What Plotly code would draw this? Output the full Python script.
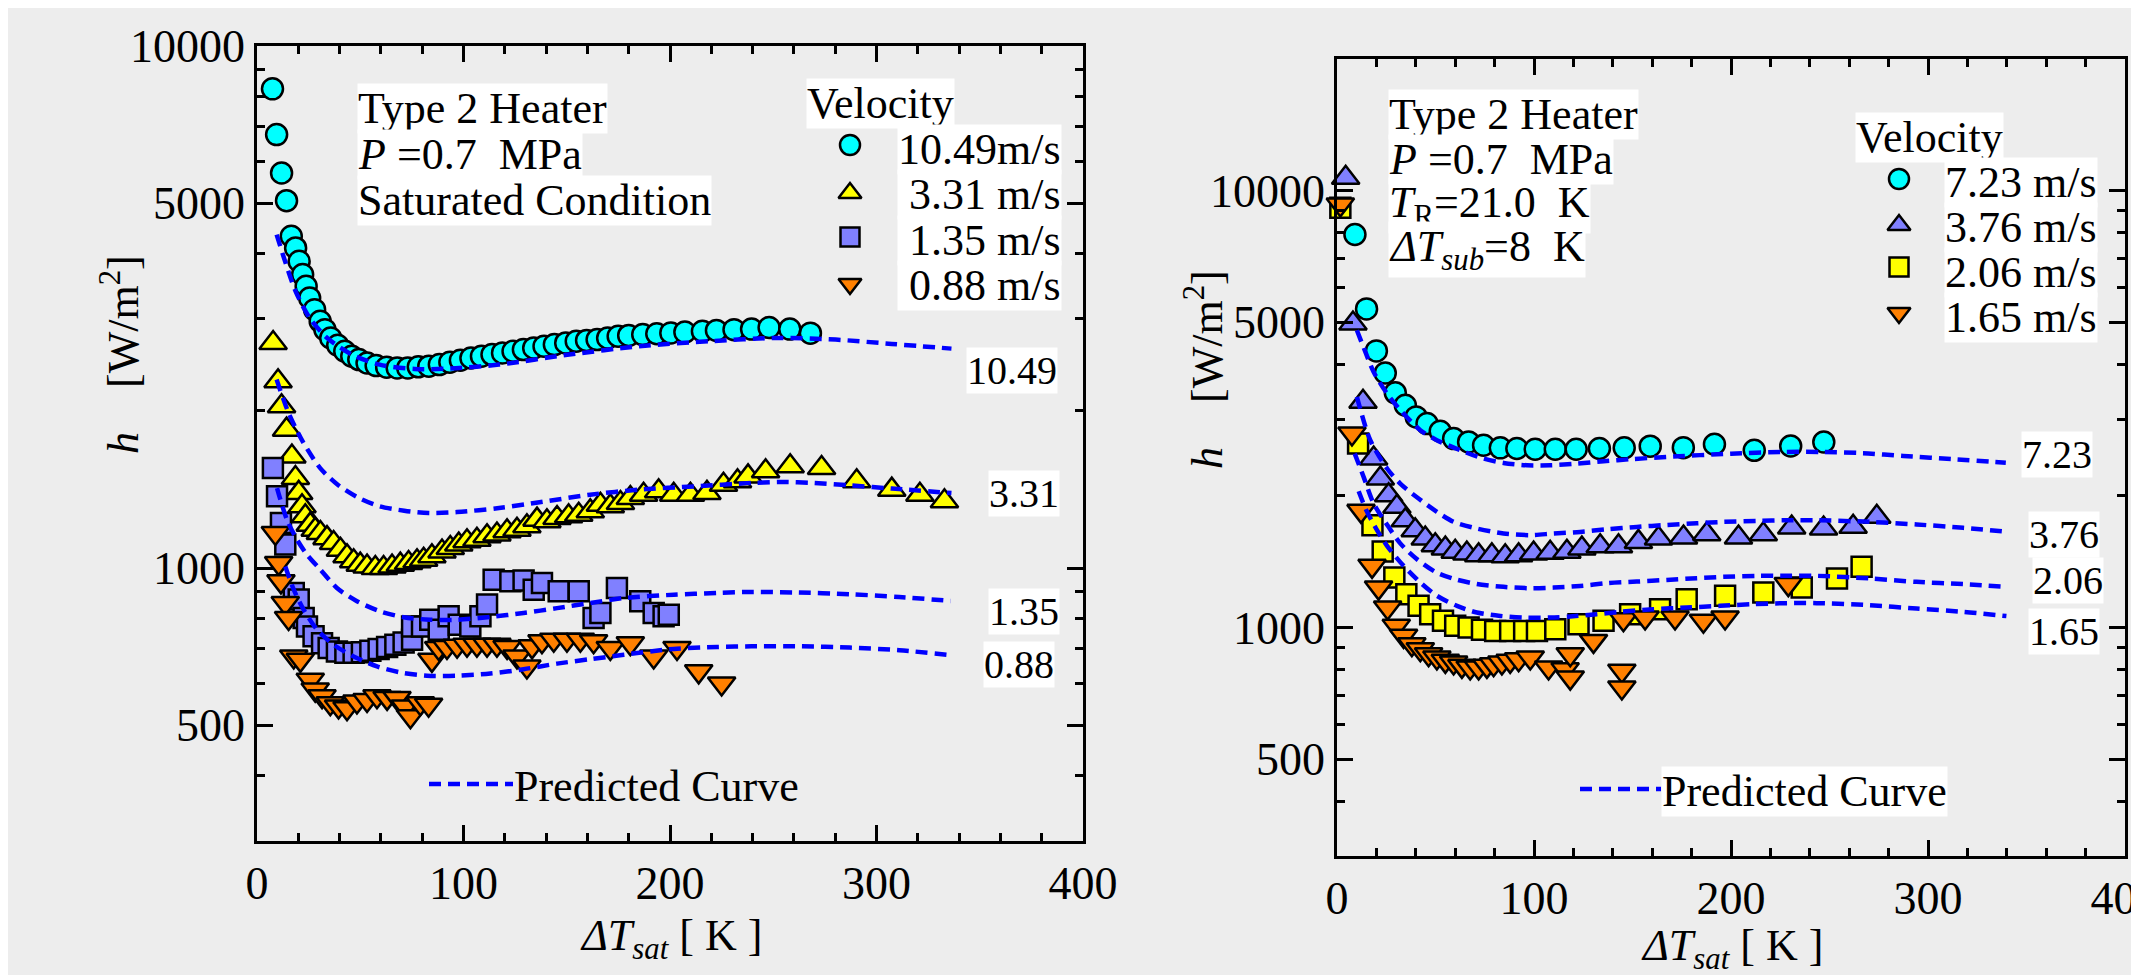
import math
import plotly.graph_objects as go

# ---------------- DATA: left panel (saturated, Type 2 heater, P = 0.7 MPa) ----------------
sat_v1049_x = [7.5, 9.5, 11.9, 14.3, 16.6, 18.7, 20.4, 22.1, 23.8, 25.5, 27.9, 30.6, 32.9, 35.7, 39.1, 42.5,
               45.9, 49.3, 53.3, 57.7, 62.8, 67.9, 73.0, 78.1, 83.2, 88.3, 93.4, 98.5, 103.6, 108.7, 113.8,
               118.9, 124.0, 129.0, 134.0, 139.0, 144.0, 149.5, 154.6, 159.6, 164.7, 169.8, 174.9, 180.0,
               186.8, 193.6, 200.4, 207.2, 215.7, 222.5, 231.0, 239.5, 248.0, 258.0, 268.0]
sat_v1049_h = [8277, 6765, 5712, 5055, 4321, 4104, 3869, 3648, 3465, 3291, 3126, 2969, 2862, 2759, 2671, 2602,
               2545, 2508, 2471, 2442, 2424, 2417, 2417, 2429, 2436, 2453, 2479, 2501, 2526, 2545, 2564,
               2583, 2602, 2621, 2640, 2660, 2679, 2699, 2719, 2729, 2739, 2759, 2780, 2790,
               2800, 2810, 2821, 2831, 2842, 2852, 2862, 2869, 2888, 2869, 2818]

sat_v331_x = [7.8, 10.2, 11.9, 14.3, 16.9, 18.6, 20.2, 21.8, 23.4, 25.8, 28.2, 30.7, 33.9, 37.1, 40.4, 43.6,
              46.8, 50.0, 53.3, 57.3, 61.3, 65.4, 69.4, 73.4, 77.5, 80.7, 84.7, 89.6, 93.6, 97.7, 101.7,
              106.5, 111.4, 116.2, 121.1, 125.9, 130.7, 135.6, 140.4, 145.3, 150.9, 155.8, 161.4, 166.3,
              171.1, 176.0, 180.8, 187.2, 194.5, 201.8, 209.9, 217.9, 225.9, 232.7, 237.8, 246.3, 258.2,
              273.4, 290.4, 307.4, 321.0, 332.9]
sat_v331_h = [2699, 2279, 2041, 1841, 1636, 1487, 1393, 1313, 1256, 1211, 1184, 1167, 1141, 1117, 1084, 1053,
              1030, 1015, 1007, 1000, 1000, 1007, 1015, 1022, 1030, 1037, 1053, 1076, 1092, 1109, 1125,
              1133, 1150, 1159, 1176, 1184, 1202, 1238, 1229, 1247, 1256, 1265, 1284, 1322,
              1313, 1332, 1362, 1382, 1403, 1382, 1382, 1393, 1444, 1466, 1498, 1532, 1566,
              1554, 1466, 1413, 1382, 1342]

sat_v135_x = [7.7, 9.7, 11.6, 13.7, 17.8, 20.2, 22.6, 24.2, 27.4, 31.5, 34.7, 38.7, 42.8, 46.8, 50.8, 54.9,
              58.9, 63.0, 67.0, 71.0, 75.1, 75.1, 79.9, 83.9, 88.0, 92.8, 97.7, 103.3, 108.2, 111.4, 114.6,
              122.7, 129.1, 134.0, 138.0, 146.1, 155.8, 163.0, 166.3, 174.3, 185.6, 192.1, 196.9, 199.4]
sat_v135_h = [1554, 1372, 1220, 1109, 896, 870, 802, 773, 740, 718, 703, 692, 688, 688, 690, 694,
              700, 706, 713, 720, 729, 773, 773, 796, 762, 808, 779, 773, 808, 851, 950,
              943, 947, 909, 936, 903, 903, 802, 820, 916, 864, 820, 808, 814]

sat_v088_x = [8.9, 10.5, 11.6, 13.7, 15.3, 17.8, 21.0, 25.8, 28.2, 31.5, 35.5, 39.5, 43.6, 48.4, 53.3, 58.1,
              63.0, 67.8, 71.8, 74.3, 79.1, 83.1, 84.7, 88.0, 92.0, 96.9, 101.7, 106.5, 111.4, 116.2, 121.1,
              125.9, 130.7, 133.2, 138.0, 143.7, 150.1, 156.6, 163.0, 171.1, 180.8, 192.1, 203.4, 213.9, 225.0]
sat_v088_h = [1167, 1022, 943, 857, 802, 677, 667, 611, 585, 568, 551, 543, 539, 555, 559, 568,
              564, 564, 543, 520, 551, 547, 667, 703, 706, 710, 713, 713, 713, 713, 706,
              677, 648, 708, 724, 729, 729, 729, 724, 703, 718, 677, 703, 634, 601]

# predicted curves, left panel
pred_1049_x = [9.5, 13.6, 18.7, 25.5, 34.0, 45.9, 59.4, 76.4, 93.4, 117.2, 151.2, 185.1, 219.1, 253.0, 280.2, 307.4, 336.3]
pred_1049_h = [4353, 3869, 3389, 3013, 2759, 2564, 2453, 2406, 2410, 2453, 2564, 2660, 2719, 2759, 2739, 2687, 2632]
pred_331_x = [9.5, 15.3, 22.1, 30.6, 39.1, 49.3, 59.4, 71.3, 83.2, 96.8, 117.2, 137.6, 161.3, 185.1, 212.3, 239.5,
              253.0, 270.0, 287.0, 307.4, 336.3]
pred_331_h = [2296, 1982, 1749, 1554, 1444, 1362, 1313, 1288, 1275, 1280, 1303, 1338, 1382, 1413, 1434, 1455,
              1462, 1455, 1440, 1420, 1392]
pred_135_x = [9.7, 14.5, 19.4, 24.2, 30.7, 38.7, 48.4, 59.7, 71.0, 83.9, 96.9, 113.0, 129.1, 145.3, 161.4, 177.6,
              201.8, 222.8, 240.0, 260.0, 287.0, 311.0, 336.0]
pred_135_h = [1423, 1238, 1133, 1061, 993, 916, 864, 826, 805, 796, 796, 806, 820, 838, 857, 876,
              889, 896, 900, 898, 891, 880, 865]
pred_088_x = [13.7, 17.8, 22.6, 29.1, 37.1, 46.8, 58.1, 69.4, 82.3, 96.9, 113.0, 129.1, 145.3, 161.4, 177.6,
              201.8, 222.8, 239.5, 263.0, 287.0, 311.0, 336.0]
pred_088_h = [1007, 909, 832, 762, 713, 677, 648, 631, 622, 622, 628, 640, 656, 669, 682,
              700, 706, 708, 708, 704, 696, 681]

# ---------------- DATA: right panel (subcooled, dT_sub = 8 K) ----------------
sub_v723_x = [9.1, 15.0, 20.0, 24.5, 29.6, 34.7, 40.2, 45.7, 52.4, 59.2, 66.8, 74.4, 82.9, 91.3, 100.6, 110.8,
              121.4, 133.2, 145.8, 159.0, 175.8, 191.6, 211.8, 230.3, 247.1]
sub_v723_h = [7935, 5360, 4296, 3824, 3444, 3226, 3034, 2929, 2813, 2706, 2659, 2613, 2577, 2568, 2559, 2559,
              2559, 2568, 2577, 2600, 2580, 2626, 2544, 2603, 2658]

sub_v376_x = [4.4, 8.1, 13.2, 18.6, 22.0, 26.2, 30.4, 34.7, 39.7, 44.8, 49.9, 55.0, 60.0, 65.9, 71.9, 78.6,
              85.4, 92.2, 99.8, 108.2, 116.7, 124.3, 133.6, 142.9, 153.0, 163.2, 175.9, 187.7, 203.8, 216.4,
              230.8, 247.0, 262.0, 274.0]
sub_v376_h = [10700, 4960, 3284, 2436, 2192, 2008, 1889, 1760, 1670, 1599, 1543, 1517, 1490, 1477, 1464, 1464,
              1456, 1464, 1477, 1482, 1490, 1517, 1535, 1535, 1570, 1599, 1606, 1635, 1606, 1635,
              1693, 1685, 1700, 1792]

sub_v206_x = [1.7, 10.7, 18.0, 23.2, 29.1, 35.2, 41.4, 47.3, 53.8, 60.0, 66.8, 73.6, 80.3, 87.9, 95.0, 101.5,
              110.8, 122.6, 135.3, 148.8, 164.0, 177.5, 197.0, 216.4, 235.9, 253.8, 266.3]
sub_v206_h = [9130, 2636, 1715, 1492, 1301, 1192, 1121, 1073, 1036, 1009, 1000, 988, 982, 982, 982, 982,
              991, 1018, 1036, 1073, 1101, 1161, 1182, 1202, 1234, 1295, 1377]

sub_v165_x = [1.7, 7.6, 12.2, 17.8, 21.1, 25.7, 30.1, 33.8, 38.0, 42.3, 46.5, 50.7, 55.0, 59.2, 63.4, 67.6,
              71.9, 76.1, 79.5, 83.7, 87.9, 92.2, 98.1, 107.4, 115.8, 118.4, 118.4, 130.2, 144.6, 144.6,
              145.4, 156.4, 171.6, 186.0, 197.0, 229.1]
sub_v165_h = [9290, 2779, 1849, 1384, 1234, 1111, 1009, 957, 916, 892, 869, 854, 839, 832, 817, 810,
              810, 817, 824, 832, 839, 846, 854, 810, 803, 869, 768, 932, 796, 729,
              1045, 1054, 1054, 1036, 1054, 1257]

pred_723_x = [10.1, 14.4, 18.6, 25.4, 33.0, 42.3, 50.7, 62.6, 72.7, 84.5, 96.4, 108.2, 121.7, 135.3, 148.8,
              167.4, 200.0, 226.9, 247.0, 267.0, 287.4, 314.3, 339.5]
pred_723_h = [4789, 4272, 3845, 3430, 3115, 2829, 2683, 2545, 2448, 2380, 2351, 2351, 2372, 2401, 2427,
              2457, 2500, 2522, 2522, 2506, 2469, 2426, 2384]
pred_376_x = [10.1, 16.9, 25.4, 32.1, 41.4, 50.7, 59.2, 71.0, 84.5, 98.1, 109.9, 123.4, 137.0, 152.2, 167.4,
              182.6, 196.1, 213.0, 228.3, 243.5, 270.6, 294.2, 317.9, 339.8]
pred_376_h = [3371, 2683, 2311, 2135, 1973, 1840, 1745, 1685, 1641, 1627, 1641, 1655, 1678, 1699, 1717,
              1732, 1745, 1754, 1760, 1760, 1745, 1721, 1691, 1656]
pred_206_x = [9.0, 13.5, 18.6, 25.0, 32.0, 40.0, 50.0, 60.0, 71.0, 84.5, 98.1, 109.9, 123.4, 137.0, 152.2,
              167.4, 182.6, 196.1, 213.0, 228.3, 243.5, 270.6, 294.2, 317.9, 339.8]
pred_206_h = [2500, 2212, 1922, 1730, 1560, 1440, 1340, 1290, 1258, 1239, 1230, 1234, 1245, 1263, 1274,
              1285, 1297, 1306, 1313, 1313, 1313, 1295, 1272, 1257, 1239]
pred_165_x = [11.0, 15.0, 20.0, 25.4, 33.8, 42.3, 50.7, 60.9, 71.0, 82.9, 94.7, 108.2, 118.4, 131.9, 143.7,
              160.6, 177.5, 194.5, 211.4, 228.3, 243.5, 270.6, 294.2, 317.9, 339.8]
pred_165_h = [2050, 1850, 1680, 1538, 1384, 1268, 1182, 1121, 1082, 1063, 1054, 1054, 1060, 1073, 1086,
              1101, 1111, 1121, 1131, 1137, 1137, 1125, 1105, 1086, 1062]

# tick values / labels
x_ticks = [0, 100, 200, 300, 400]
x_minor = [v for v in range(20, 400, 20) if v % 100 != 0]
y_ticks = [500, 1000, 5000, 10000]
y_ticktext = ["500", "1000", "5000", "10000"]
y_minor = [400, 600, 700, 800, 900, 2000, 3000, 4000, 6000, 7000, 8000, 9000]

left_legend = ["10.49m/s", "\u00a03.31 m/s", "\u00a01.35 m/s", "\u00a00.88 m/s"]
right_legend = ["7.23 m/s", "3.76 m/s", "2.06 m/s", "1.65 m/s"]
left_curve_labels = ["10.49", "3.31", "1.35", "0.88"]
right_curve_labels = ["7.23", "3.76", "2.06", "1.65"]

# ---------------- STYLE ----------------
W, H = 2139, 975
FONT = "Liberation Serif, Times New Roman, serif"
BG = "#ededed"
CYAN, YELLOW, PERI, ORANGE, BLUE = "#00FFFF", "#FFFF00", "#8080FF", "#FF8000", "#0000FF"
DASH = "12px,7px"
LINE_W = 4.5
SIZES = {"circle": 21, "square": 20, "triangle-up": 24, "triangle-down": 24}

fig = go.Figure()


def markers(x, y, xa, ya, symbol, color):
    fig.add_trace(go.Scatter(x=x, y=y, xaxis=xa, yaxis=ya, mode="markers", cliponaxis=False,
                             marker=dict(symbol=symbol, color=color, size=SIZES[symbol],
                                         line=dict(color="black", width=2.5)),
                             showlegend=False, hoverinfo="skip"))


def curve(x, y, xa, ya):
    fig.add_trace(go.Scatter(x=x, y=y, xaxis=xa, yaxis=ya, mode="lines", cliponaxis=False,
                             line=dict(color=BLUE, width=LINE_W, dash=DASH, shape="spline", smoothing=0.8),
                             showlegend=False, hoverinfo="skip"))


# left panel
markers(sat_v1049_x, sat_v1049_h, "x", "y", "circle", CYAN)
markers(sat_v331_x, sat_v331_h, "x", "y", "triangle-up", YELLOW)
markers(sat_v135_x, sat_v135_h, "x", "y", "square", PERI)
markers(sat_v088_x, sat_v088_h, "x", "y", "triangle-down", ORANGE)
for cx, cy in [(pred_1049_x, pred_1049_h), (pred_331_x, pred_331_h),
               (pred_135_x, pred_135_h), (pred_088_x, pred_088_h)]:
    curve(cx, cy, "x", "y")

# right panel
markers(sub_v723_x, sub_v723_h, "x2", "y2", "circle", CYAN)
markers(sub_v376_x, sub_v376_h, "x2", "y2", "triangle-up", PERI)
markers(sub_v206_x, sub_v206_h, "x2", "y2", "square", YELLOW)
markers(sub_v165_x, sub_v165_h, "x2", "y2", "triangle-down", ORANGE)
for cx, cy in [(pred_723_x, pred_723_h), (pred_376_x, pred_376_h),
               (pred_206_x, pred_206_h), (pred_165_x, pred_165_h)]:
    curve(cx, cy, "x2", "y2")

# ---- legend keys drawn on a full-page overlay axis (pixel positions) ----
leg_symbols = ["circle", "triangle-up", "square", "triangle-down"]
left_colors = [CYAN, YELLOW, PERI, ORANGE]
right_colors = [CYAN, PERI, YELLOW, ORANGE]
left_key_x, left_key_y = 842, [137, 185, 229, 276]
right_key_x, right_key_y = 1891, [171, 217, 259, 305]
for kx, kys, cols in [(left_key_x, left_key_y, left_colors), (right_key_x, right_key_y, right_colors)]:
    for sym, col, ky in zip(leg_symbols, cols, kys):
        fig.add_trace(go.Scatter(x=[kx], y=[ky], xaxis="x3", yaxis="y3", mode="markers", cliponaxis=False,
                                 marker=dict(symbol=sym, color=col, size=20 if sym != "square" else 19,
                                             line=dict(color="black", width=2.5)),
                                 showlegend=False, hoverinfo="skip"))
# "Predicted Curve" sample lines
for (xa0, xa1, yy) in [(421, 505, 776), (1572, 1653, 781)]:
    fig.add_trace(go.Scatter(x=[xa0, xa1], y=[yy, yy], xaxis="x3", yaxis="y3", mode="lines", cliponaxis=False,
                             line=dict(color=BLUE, width=LINE_W, dash=DASH),
                             showlegend=False, hoverinfo="skip"))

annotations = []


def ann(text, x, y, size=44, xanchor="left", bg=None, angle=0):
    d = dict(text=text, x=x, y=y, xref="x3", yref="y3", showarrow=False, xanchor=xanchor, yanchor="middle",
             font=dict(family=FONT, size=size, color="black"), borderpad=0, textangle=angle)
    if bg:
        d["bgcolor"] = bg
    annotations.append(d)


# condition texts
ann("Type 2 Heater", 349, 100, bg="white")
ann("<i>P</i> =0.7\u00a0\u00a0MPa", 349, 146, bg="white")
ann("Saturated Condition", 349, 192, bg="white")
ann("Type 2 Heater", 1380, 106, bg="white")
ann("<i>P</i> =0.7\u00a0\u00a0MPa", 1380, 151, bg="white")
ann("<i>T</i><sub>R</sub>=21.0\u00a0\u00a0K", 1380, 197, bg="white")
ann("<i>\u0394T</i><sub><i>sub</i></sub>=8\u00a0\u00a0K", 1380, 241, bg="white")

# legends
ann("Velocity", 798, 95, bg="white")
for t, yy in zip(left_legend, [141, 186, 232, 277]):
    ann(t, 889, yy, bg="white")
ann("Velocity", 1847, 129, bg="white")
for t, yy in zip(right_legend, [174, 219, 264, 309]):
    ann(t, 1936, yy, bg="white")
ann("Predicted Curve", 505, 778)
ann("Predicted Curve", 1653, 783, bg="white")

# curve labels
for t, (xx, yy) in zip(left_curve_labels, [(1004, 362), (1016, 485), (1016, 603), (1011, 656)]):
    ann(t, xx, yy, size=40, xanchor="center", bg="white")
for t, (xx, yy) in zip(right_curve_labels, [(2049, 446), (2056, 526), (2060, 572), (2056, 623)]):
    ann(t, xx, yy, size=40, xanchor="center", bg="white")

# axis titles
ytitle = "<i>h</i>\u00a0\u00a0\u00a0\u00a0[W/m<sup>2</sup>]"
ann(ytitle, 112, 347, xanchor="center", angle=-90)
ann(ytitle, 1196, 362, xanchor="center", angle=-90)
xtitle = "<i>\u0394T</i><sub><i>sat</i></sub> [ K ]"
ann(xtitle, 663, 930, xanchor="center")
ann(xtitle, 1724, 940, xanchor="center")


def xaxis(domain, anchor):
    return dict(domain=domain, anchor=anchor, range=[0, 400], showline=True, linecolor="black", linewidth=2.5,
                mirror="ticks", ticks="inside", ticklen=16, tickwidth=2.5, tickcolor="black",
                tickmode="array", tickvals=x_ticks, ticktext=[str(v) for v in x_ticks],
                tickfont=dict(family=FONT, size=46, color="black"), ticklabeloverflow="allow",
                minor=dict(tickmode="array", tickvals=x_minor, ticks="inside", ticklen=8, tickwidth=2.5,
                           tickcolor="black", showgrid=False),
                showgrid=False, zeroline=False, fixedrange=True, automargin=False)


def yaxis(domain, anchor, top):
    return dict(domain=domain, anchor=anchor, type="log", range=[math.log10(300), math.log10(top)],
                showline=True, linecolor="black", linewidth=2.5, mirror="ticks", ticks="inside",
                ticklen=16, tickwidth=2.5, tickcolor="black", tickmode="array", tickvals=y_ticks,
                ticktext=y_ticktext, tickfont=dict(family=FONT, size=46, color="black"),
                ticklabeloverflow="allow",
                minor=dict(tickmode="array", tickvals=y_minor, ticks="inside", ticklen=8, tickwidth=2.5,
                           tickcolor="black", showgrid=False),
                showgrid=False, zeroline=False, fixedrange=True, automargin=False)


fig.update_layout(
    template="none",
    width=W, height=H, margin=dict(l=0, r=0, t=0, b=0, pad=0, autoexpand=False),
    paper_bgcolor=BG, plot_bgcolor="rgba(0,0,0,0)",
    font=dict(family=FONT, color="black"),
    xaxis=xaxis([249 / W, 1075 / W], "y"),
    yaxis=yaxis([1 - 833 / H, 1 - 38 / H], "x", 10000),
    xaxis2=xaxis([1329 / W, 2117 / W], "y2"),
    yaxis2=yaxis([1 - 848 / H, 1 - 51 / H], "x2", 20000),
    xaxis3=dict(domain=[0, 1], range=[0, W], visible=False, anchor="y3", fixedrange=True, automargin=False),
    yaxis3=dict(domain=[0, 1], range=[H, 0], visible=False, anchor="x3", fixedrange=True, automargin=False),
    annotations=annotations,
    showlegend=False,
)

fig.write_html("out.html")
